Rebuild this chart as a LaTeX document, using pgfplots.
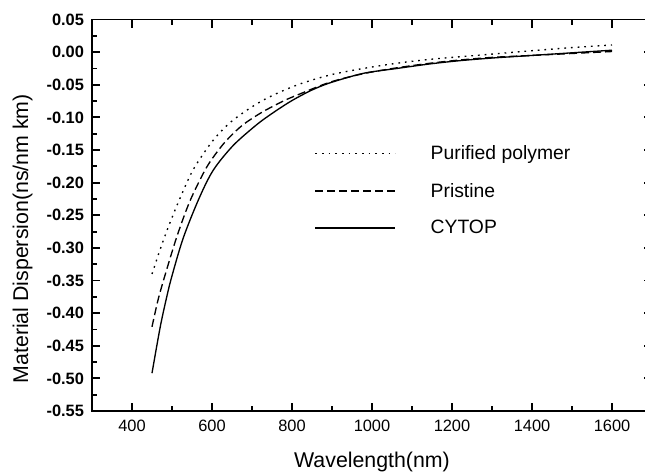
\documentclass[border=0pt]{standalone}
\usepackage{fontspec}
\setmainfont{Liberation Sans}
\usepackage{pgfplots}
\pgfplotsset{compat=1.18}

% Material dispersion curves
\begin{document}
\begin{tikzpicture}
\begin{axis}[
    scale only axis,
    width=420pt, height=293.6pt,
    xmin=300, xmax=1700,
    ymin=-0.55, ymax=0.05,
    xtick={400,600,...,1600},
    minor xtick={500,700,...,1500},
    ytick={-0.55,-0.50,-0.45,-0.40,-0.35,-0.30,-0.25,-0.20,-0.15,-0.10,-0.05,0,0.05},
    minor ytick={-0.525,-0.475,-0.425,-0.375,-0.325,-0.275,-0.225,-0.175,-0.125,-0.075,-0.025,0.025},
    tick align=inside,
    major tick length=6pt,
    minor tick length=3.75pt,
    axis line style={line width=1.4pt},
    every tick/.style={black, line width=1.4pt},
    /pgf/number format/assume math mode=true,
    /pgf/number format/set thousands separator={},
    yticklabel={\pgfmathprintnumber[fixed,fixed zerofill,precision=2]{\tick}},
    xticklabel style={font=\fontsize{12.3}{14}\selectfont, yshift=-3.5pt},
    yticklabel style={font=\fontsize{12.3}{14}\selectfont\bfseries, xshift=-2.5pt},
    xlabel={Wavelength(nm)},
    ylabel={Material Dispersion(ns/nm km)},
    every axis x label/.style={at={(axis description cs:0.5,-0.130)}, anchor=center,
        font=\fontsize{16}{19}\selectfont},
    every axis y label/.style={at={(axis description cs:-0.124,0.44)}, anchor=center, rotate=90,
        font=\fontsize{16}{19}\selectfont},
    legend style={at={(0.390,0.692)}, anchor=north west, draw=none, fill=none,
        font=\fontsize{14.5}{17}\selectfont, row sep=12pt,
        nodes={inner sep=2pt},
        /tikz/every odd column/.append style={column sep=24pt}},
    legend cell align=left,
    legend image code/.code={\draw[#1] (0pt,0pt) -- (60pt,0pt);},
]

% Purified polymer
\addplot[black, line width=1pt, smooth, dash pattern=on 1.3pt off 3.7pt] coordinates {
    (450,-0.340) (470,-0.303) (487,-0.274) (503,-0.249) (520,-0.224)
    (553,-0.180) (603,-0.135) (653,-0.104) (728,-0.0735) (812,-0.0505)
    (895,-0.035) (978,-0.025) (1062,-0.017) (1145,-0.011) (1220,-0.007)
    (1300,-0.003) (1395,0.002) (1500,0.007) (1600,0.011)
};

% Pristine
\addplot[black, line width=1pt, smooth, dash pattern=on 6pt off 3pt] coordinates {
    (450,-0.421) (465,-0.380) (482,-0.343) (512,-0.283) (545,-0.228)
    (587,-0.176) (628,-0.141) (662,-0.1195) (687,-0.107) (728,-0.091)
    (778,-0.075) (812,-0.066) (895,-0.046) (978,-0.033) (1062,-0.024)
    (1145,-0.017) (1220,-0.012) (1300,-0.008) (1400,-0.005) (1500,-0.002) (1600,0.001)
};

% CYTOP
\addplot[black, line width=1pt, smooth] coordinates {
    (450,-0.492) (470,-0.423) (485,-0.380) (499,-0.345) (528,-0.285)
    (567,-0.225) (603,-0.181) (653,-0.143) (712,-0.111) (750,-0.094)
    (787,-0.079) (812,-0.070) (850,-0.058) (895,-0.047) (978,-0.0325)
    (1062,-0.025) (1145,-0.018) (1220,-0.013) (1300,-0.009) (1400,-0.005)
    (1500,-0.001) (1600,0.003)
};

\legend{Purified polymer, Pristine, CYTOP}
\end{axis}
\pgfresetboundingbox
\path (current axis.south west) ++(-69pt,-45.75pt) rectangle ++(483.75pt,354pt);
\end{tikzpicture}
\end{document}
